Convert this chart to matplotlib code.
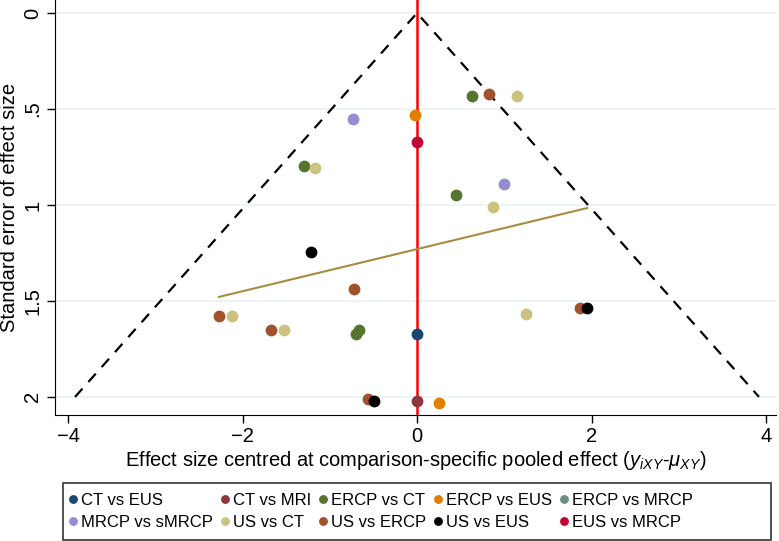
import matplotlib
matplotlib.use('Agg')
import matplotlib.pyplot as plt
from matplotlib.patches import Rectangle

plt.rcParams['font.family'] = ['Liberation Sans', 'DejaVu Sans']
plt.rcParams['mathtext.fontset'] = 'custom'
plt.rcParams['mathtext.rm'] = 'Liberation Sans'
plt.rcParams['mathtext.it'] = 'Liberation Sans:italic'

# data: (effect size centred, standard error)
labels = ['CT vs EUS', 'CT vs MRI', 'ERCP vs CT', 'ERCP vs EUS', 'ERCP vs MRCP',
          'MRCP vs sMRCP', 'US vs CT', 'US vs ERCP', 'US vs EUS', 'EUS vs MRCP']
colors = ['#1a476f', '#90353b', '#55752f', '#e37e00', '#6e8e84',
          '#938dd2', '#cac27e', '#a0522d', '#000000', '#c10534']

x_vals = {
    'CT vs EUS': [0.0],
    'CT vs MRI': [0.0],
    'ERCP vs CT': [0.63, -1.29, 0.45, -0.70, -0.66],
    'ERCP vs EUS': [-0.02, 0.25],
    'ERCP vs MRCP': [],
    'MRCP vs sMRCP': [-0.73, 1.0],
    'US vs CT': [1.15, -1.17, 0.87, -2.12, -1.53, 1.25],
    'US vs ERCP': [0.83, -0.72, -2.27, -1.67, -0.56, 1.87],
    'US vs EUS': [-1.21, -0.49, 1.95],
    'EUS vs MRCP': [0.0],
}
se_vals = {
    'CT vs EUS': [1.67],
    'CT vs MRI': [2.02],
    'ERCP vs CT': [0.43, 0.797, 0.95, 1.67, 1.65],
    'ERCP vs EUS': [0.53, 2.03],
    'ERCP vs MRCP': [],
    'MRCP vs sMRCP': [0.552, 0.89],
    'US vs CT': [0.43, 0.807, 1.01, 1.58, 1.65, 1.57],
    'US vs ERCP': [0.42, 1.44, 1.58, 1.65, 2.01, 1.535],
    'US vs EUS': [1.245, 2.02, 1.535],
    'EUS vs MRCP': [0.67],
}

# funnel limits and fitted line
funnel_se = [0, 2]
reg_x = [-2.27, 1.95]
reg_se = [1.479, 1.016]

fig = plt.figure(figsize=(7.79, 5.41), dpi=100)
ax = fig.add_axes([0.0706, 0.233, 0.925, 0.767])

for yv in [0, 0.5, 1, 1.5, 2]:
    ax.axhline(yv, color='#eaf2f3', lw=1.2, zorder=0)

ax.plot([-1.96 * funnel_se[1], 0, 1.96 * funnel_se[1]],
        [funnel_se[1], funnel_se[0], funnel_se[1]],
        color='black', ls=(0, (5, 4)), lw=1.6, zorder=2)
ax.axvline(0, color='#ff0000', lw=1.8, zorder=2)
ax.plot(reg_x, reg_se, color='#a88c3e', lw=1.5, zorder=2)

handles = {}
for lab, col in zip(labels, colors):
    h, = ax.plot(x_vals[lab], se_vals[lab], 'o', color=col, ms=8.5,
                 markeredgewidth=0, ls='none', zorder=3, label=lab)
    handles[lab] = h

ax.set_xlim(-4.15, 4.11)
ax.set_ylim(2.094, -0.068)
ax.set_xticks([-4, -2, 0, 2, 4])
ax.set_yticks([0, 0.5, 1, 1.5, 2])
ax.set_yticklabels(['0', '.5', '1', '1.5', '2'], rotation=90, va='center')
ax.tick_params(labelsize=14.5, length=6, width=1, pad=3)
for s in ['top', 'right']:
    ax.spines[s].set_visible(False)

ax.set_ylabel('Standard error of effect size', fontsize=14.5, labelpad=3)
ax.set_xlabel('Effect size centred at comparison-specific pooled effect ('
              + r'$y_{iXY}$' + '-' + r'$\mu_{XY}$' + ')', fontsize=14.5, labelpad=2)

# legend box drawn separately, as Stata's box is wider than its keys
fig.patches.append(Rectangle((63 / 779, 1 / 541), (771 - 63) / 779, (540 - 483) / 541,
                             transform=fig.transFigure, fill=False,
                             edgecolor='#333333', lw=1.2))

# matplotlib fills legend columns first, so reorder for row-wise layout
order = []
for c in range(5):
    order += [labels[c], labels[c + 5]]
leg = fig.legend([handles[l] for l in order], order, ncol=5,
                 loc='center left', bbox_to_anchor=(66 / 779, 1 - 511.5 / 541),
                 fontsize=12, frameon=False,
                 handletextpad=0.1, columnspacing=0.3, handlelength=0.8,
                 markerscale=0.75, borderpad=0.0, borderaxespad=0.0,
                 labelspacing=0.45)

fig.savefig('out.png', dpi=100)
